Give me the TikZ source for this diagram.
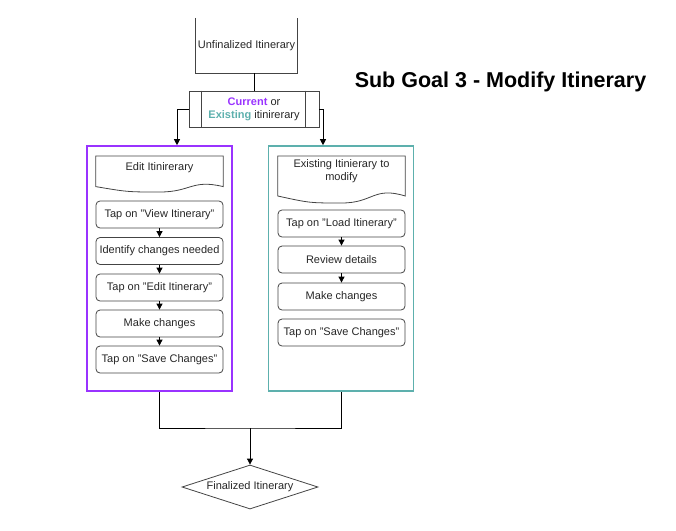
\documentclass[tikz,border=0pt]{standalone}
\usepackage{fontspec}
\setmainfont{Liberation Sans}
\usetikzlibrary{arrows.meta,shapes.geometric}

\definecolor{cur}{HTML}{9933FF}
\definecolor{exi}{HTML}{5DB0AD}
\definecolor{edge}{HTML}{444444}

\tikzset{
  every node/.style={font=\fontsize{11}{13}\selectfont, align=center, inner sep=1pt, text=black!85},
  stepbox/.style={rectangle, rounded corners=4pt, draw=edge, thick, minimum width=127pt, minimum height=27pt},
  lane/.style={rectangle, line width=1.6pt, minimum width=145pt, minimum height=245pt},
  flow/.style={-{Triangle[length=6pt,width=6pt]}, thick},
}

\begin{document}
\begin{tikzpicture}[x=1pt,y=-1pt]
  \useasboundingbox (0,0) rectangle (676,530);

  % title
  \node[font=\fontsize{21.5}{24}\selectfont\bfseries, text=black] (title) at (500.5,82) {Sub Goal 3 - Modify Itinerary};

  % start
  \node[minimum width=101pt, minimum height=55pt] (unf) at (246.5,45.5) {Unfinalized Itinerary};
  \draw[edge, thick] (unf.north west) -- (unf.south west) -- (unf.south east) -- (unf.north east);

  % choice
  \node[rectangle, draw=edge, thick, minimum width=130pt, minimum height=36pt] (proc) at (254,109)
    {\textcolor{cur}{\bfseries Current} or\\ \textcolor{exi}{\bfseries Existing} itinirerary};
  \draw[edge, thick] ([xshift=13pt]proc.north west) -- ([xshift=13pt]proc.south west);
  \draw[edge, thick] ([xshift=-14pt]proc.north east) -- ([xshift=-14pt]proc.south east);

  % lanes
  \node[lane, draw=cur] (edit) at (159.5,268.5) {};
  \node[lane, draw=exi] (load) at (341,268.5) {};

  % document headers
  \node[minimum width=127pt, minimum height=36pt, anchor=north] (doc1) at (159.5,156) {};
  \node[anchor=north] (doc1t) at (159.5,161) {Edit Itinirerary};
  \draw[edge, thick] (doc1.north west) -- (doc1.north east) -- ++(0,30.6)
    .. controls ++(-31.75,-7.56) and ++(31.75,0) .. ++(-63.5,5.4)
    .. controls ++(-31.75,0) and ++(31.75,5.4) .. (doc1.north west |- 0,186.6) -- cycle;

  \node[minimum width=127pt, minimum height=47pt, anchor=north] (doc2) at (341.5,156) {};
  \node[anchor=north] (doc2t) at (341.5,158) {Existing Itinierary to\\ modify};
  \draw[edge, thick] (doc2.north west) -- (doc2.north east) -- ++(0,40)
    .. controls ++(-31.75,-9.8) and ++(31.75,0) .. ++(-63.5,7)
    .. controls ++(-31.75,0) and ++(31.75,7) .. (doc2.north west |- 0,196) -- cycle;

  % left steps
  \node[stepbox] (a1) at (159.5,214.5) {Tap on "View Itinerary"};
  \node[stepbox] (a2) at (159.5,251) {Identify changes needed};
  \node[stepbox] (a3) at (159.5,287.5) {Tap on "Edit Itinerary"};
  \node[stepbox] (a4) at (159.5,323.5) {Make changes};
  \node[stepbox] (a5) at (159.5,359.5) {Tap on "Save Changes"};

  % right steps
  \node[stepbox] (b1) at (341.5,223.5) {Tap on "Load Itinerary"};
  \node[stepbox] (b2) at (341.5,259.5) {Review details};
  \node[stepbox] (b3) at (341.5,296.5) {Make changes};
  \node[stepbox] (b4) at (341.5,332.5) {Tap on "Save Changes"};

  % end
  \node[diamond, draw=edge, thick, aspect=3.1, minimum width=136pt, minimum height=44pt, inner sep=0pt] (fin) at (250,487) {Finalized Itinerary};
  \coordinate (join) at (250,428);

  \path[flow]
    (a1) edge (a2)
    (a2) edge (a3)
    (a3) edge (a4)
    (a4) edge (a5)
    (b1) edge (b2)
    (b2) edge (b3)
    (join) edge (fin)
	;
  \draw[thick] (proc.north) -- (proc.north |- unf.south);
  \draw[flow] (proc.west) -| ([xshift=17.5pt]edit.north);
  \draw[flow] (proc.east) -| ([xshift=-18pt]load.north);
  \draw[thick] (edit.south) |- (join) -| (load.south);
\end{tikzpicture}
\end{document}
